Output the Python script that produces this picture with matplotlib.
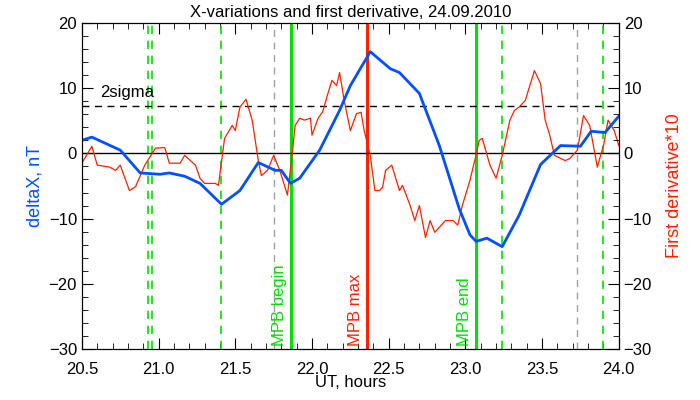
import matplotlib
matplotlib.use("Agg")
import matplotlib.pyplot as plt
from matplotlib.ticker import MultipleLocator

plt.rcParams['font.family'] = ['Liberation Sans', 'DejaVu Sans']

bx = [20.50,20.565,20.75,20.88,21.01,21.07,21.17,21.27,21.41,21.53,21.65,21.76,21.80,21.86,21.92,22.05,22.18,22.25,22.38,22.51,22.57,22.70,22.83,22.96,23.03,23.07,23.14,23.24,23.35,23.49,23.62,23.75,23.82,23.91,24.0]
bv = [2.0,2.5,0.5,-3.0,-3.2,-3.0,-3.5,-4.6,-7.8,-5.7,-1.4,-2.6,-2.6,-4.6,-3.8,0.5,6.6,10.4,15.6,13.0,12.4,9.2,1.2,-8.5,-12.5,-13.5,-13.0,-14.3,-9.5,-1.7,1.2,1.1,3.4,3.2,5.7]

rx = [20.50,20.565,20.60,20.68,20.72,20.75,20.81,20.85,20.91,20.98,21.04,21.07,21.14,21.17,21.24,21.27,21.30,21.37,21.39,21.43,21.48,21.50,21.53,21.57,21.61,21.65,21.67,21.71,21.75,21.79,21.84,21.87,21.89,21.92,21.95,21.99,22.00,22.04,22.07,22.10,22.13,22.16,22.18,22.21,22.25,22.29,22.32,22.34,22.38,22.41,22.44,22.46,22.48,22.52,22.57,22.59,22.64,22.67,22.70,22.74,22.77,22.80,22.87,22.92,22.95,22.98,23.03,23.07,23.09,23.11,23.16,23.20,23.24,23.29,23.32,23.35,23.39,23.45,23.49,23.52,23.55,23.58,23.65,23.68,23.73,23.77,23.81,23.86,23.90,23.93,23.97,24.0]
rv = [-1.5,1.1,-1.8,-2.1,-2.6,-1.8,-5.7,-5.1,-1.8,0.8,0.9,-1.5,-1.5,-0.3,-1.8,-3.8,-4.6,-4.6,-4.9,2.3,4.3,3.5,7.1,8.3,5.1,-1.1,-3.4,-2.6,-0.3,-2.6,-6.4,-0.3,4.3,5.4,5.1,5.4,2.8,5.4,6.4,8.9,11.2,10.4,12.4,8.1,3.5,6.1,6.3,3.5,-0.3,-5.7,-5.7,-5.2,-2.6,-1.8,-5.7,-4.9,-8.0,-10.3,-8.0,-12.9,-10.3,-12.1,-10.3,-10.3,-11.0,-8.0,-4.1,-0.2,2.0,2.3,-1.8,-3.8,-0.3,5.1,6.6,7.1,8.1,12.7,10.7,5.1,2.8,-0.3,-1.1,-0.8,0.5,5.8,4.3,-2.1,1.2,5.1,3.5,1.2]

green_dashed = [20.93, 20.96, 21.41, 23.24, 23.90]
gray_dashed = [21.75, 23.73]
green_solid = [21.86, 23.07]
red_solid = 22.36
sigma2 = 7.2
markers = [(21.86, 'MPB begin', '#00e000'), (22.36, 'MPB max', '#ff2000'), (23.07, 'MPB end', '#00e000')]

fig = plt.figure(figsize=(7, 4), dpi=100)
ax = fig.add_axes([0.117, 0.1275, 0.767, 0.815])
ax.set_xlim(20.5, 24.0)
ax.set_ylim(-30, 20)

for x in green_dashed:
    ax.axvline(x, color='#00e000', ls=(0, (5, 4)), lw=1.2)
for x in gray_dashed:
    ax.axvline(x, color='#a0a0a0', ls=(0, (5, 4)), lw=1)
for x in green_solid:
    ax.axvline(x, color='#00e000', lw=2.2)
ax.axvline(red_solid, color='#ff2000', lw=2.2)
ax.axhline(0, color='black', lw=1)
ax.axhline(sigma2, color='black', ls=(0, (5, 4)), lw=1)
ax.text(20.62, 8.6, '2sigma', fontsize=12, color='black')

ax.plot(rx, rv, color='#ff2000', lw=0.9)
ax.plot(bx, bv, color='#0050ff', lw=2)

for x, t, c in markers:
    ax.text(x - 0.025, -29.5, t, rotation=90, color=c, fontsize=12, ha='right', va='bottom')

ax.set_title('X-variations and first derivative, 24.09.2010', fontsize=12, pad=4)
ax.set_xlabel('UT, hours', fontsize=12, labelpad=-1)
ax.set_ylabel('deltaX, nT', color='#0050ff', fontsize=13)
ax.xaxis.set_major_locator(MultipleLocator(0.5))
ax.xaxis.set_minor_locator(MultipleLocator(0.1))
ax.yaxis.set_major_locator(MultipleLocator(10))
ax.yaxis.set_minor_locator(MultipleLocator(2))
ax.tick_params(which='both', direction='in', top=True, labelsize=12)
ax.tick_params(which='major', length=8)
ax.tick_params(which='minor', length=4)
ax.tick_params(axis='x', pad=9)

ax2 = ax.twinx()
ax2.set_ylim(-30, 20)
ax2.yaxis.set_major_locator(MultipleLocator(10))
ax2.yaxis.set_minor_locator(MultipleLocator(2))
ax2.tick_params(which='both', direction='in', labelsize=12)
ax2.tick_params(which='major', length=8)
ax2.tick_params(which='minor', length=4)
ax2.set_ylabel('First derivative*10', color='#ff2000', fontsize=13, labelpad=10)

fig.savefig('out.png', dpi=100)
